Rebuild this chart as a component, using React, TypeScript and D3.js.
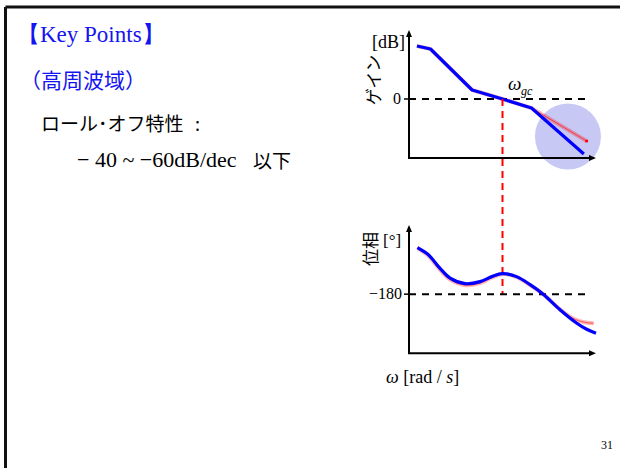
import React from "react";
import * as d3 from "d3";

// Gain curves: breakpoints on a log10(ω) axis, gain in dB
const gainLogW = [0.17, 0.46, 1.35, 2.0, 2.62, 3.74];
const gainShaped = [106, 100, 18, 0, -18, -110];
const gainBaseLogW = [0.17, 0.46, 1.35, 2.0, 2.62, 3.8];
const gainBase = [106, 100, 18, 0, -18, -84];

// Phase curves: log10(ω) vs degrees
const phaseLogW = [0.18, 0.41, 0.66, 0.88, 1.2, 1.52, 1.77, 2.0, 2.3, 2.59, 2.87, 3.23, 3.59, 3.8, 4.0];
const phaseShaped = [-87, -101, -128, -148, -159, -155, -145, -139, -145, -161, -180, -211, -238, -250, -258];
const phaseBaseLogW = [0.18, 0.41, 0.66, 0.88, 1.2, 1.52, 1.77, 2.0, 2.3, 2.59, 2.87, 3.23, 3.5, 3.75, 3.95];
const phaseBase = [-88, -103, -131, -151, -162, -158, -147, -140, -146, -162, -180, -210, -228, -236, -238];

// Reference levels and crossover frequency
const gainRef = 0;
const phaseRef = -180;
const crossoverLogW = 2.0;
const refLineEndLogW = 3.87;
const highlightLogW = 3.4;
const highlightDb = -75;

const SERIF = "'Liberation Serif', 'Times New Roman', serif";
const SANS = "'Noto Sans CJK JP', 'Noto Sans', sans-serif";
const BLUE = "#0000ff";
const TEXT_BLUE = "#1414f0";

const x = d3.scaleLinear().domain([0, 4]).range([409, 596]);
const yGain = d3.scaleLinear().domain([-118, 138]).range([158, 30]);
const yPhase = d3.scaleLinear().domain([-298, -42]).range([353.3, 225]);

const zip = (xs: number[], ys: number[]) => xs.map((v, i) => [v, ys[i]] as [number, number]);

const gainLine = d3
  .line<[number, number]>()
  .x((d) => x(d[0]))
  .y((d) => yGain(d[1]));

const phaseLine = d3
  .line<[number, number]>()
  .x((d) => x(d[0]))
  .y((d) => yPhase(d[1]))
  .curve(d3.curveCatmullRom.alpha(0.5));

function Axes({ y }: { y: d3.ScaleLinear<number, number> }) {
  const x0 = x.range()[0];
  const x1 = x.range()[1];
  const yb = y.range()[0];
  const yt = y.range()[1];
  return (
    <g stroke="#000" fill="#000">
      <line x1={x0} y1={yb} x2={x0} y2={yt + 5} strokeWidth={2} />
      <path d={`M${x0},${yt} L${x0 - 3},${yt + 7} L${x0 + 3},${yt + 7} Z`} stroke="none" />
      <line x1={x0 - 1} y1={yb} x2={x1 - 5} y2={yb} strokeWidth={2} />
      <path d={`M${x1},${yb} L${x1 - 7},${yb - 3} L${x1 - 7},${yb + 3} Z`} stroke="none" />
    </g>
  );
}

export default function App() {
  const gShaped = zip(gainLogW, gainShaped);
  const gBase = zip(gainBaseLogW, gainBase);
  const pShaped = zip(phaseLogW, phaseShaped);
  const pBase = zip(phaseBaseLogW, phaseBase);
  const gEnd = gBase[gBase.length - 1];

  return (
    <svg
      width={620}
      height={468}
      style={{ position: "absolute", left: 0, top: 0, background: "#fff" }}
    >
      {/* slide frame */}
      <line x1={5.5} y1={7} x2={620} y2={7} stroke="#111" strokeWidth={3} />
      <line x1={5.5} y1={7} x2={5.5} y2={468} stroke="#111" strokeWidth={3} />

      {/* left text block */}
      <text x={17} y={42} fontFamily={SERIF} fontSize={23} fill={TEXT_BLUE}>
        【Key Points】
      </text>
      <text x={20} y={88} fontFamily={SANS} fontSize={21} fill={TEXT_BLUE}>
        （高周波域）
      </text>
      <text x={41} y={131} fontFamily={SANS} fontSize={19} fill="#000">
        ロール･オフ特性
      </text>
      <text x={195} y={131} fontFamily={SANS} fontSize={18} fill="#000">
        :
      </text>
      <text x={77} y={167} fontFamily={SERIF} fontSize={22} fill="#000">
        − 40 ~ −60dB/dec
      </text>
      <text x={253} y={168} fontFamily={SANS} fontSize={19} fill="#000">
        以下
      </text>

      {/* gain plot */}
      <circle
        cx={x(highlightLogW)}
        cy={yGain(highlightDb)}
        r={33}
        fill="#c8c8f5"
      />
      <Axes y={yGain} />
      <line
        x1={x.range()[0]}
        x2={x(refLineEndLogW)}
        y1={yGain(gainRef)}
        y2={yGain(gainRef)}
        stroke="#000"
        strokeWidth={2}
        strokeDasharray="7,6"
      />
      <line x1={404} x2={409} y1={yGain(gainRef)} y2={yGain(gainRef)} stroke="#000" strokeWidth={1.5} />
      <text x={401} y={yGain(gainRef) + 5} textAnchor="end" fontFamily={SERIF} fontSize={16}>
        0
      </text>
      <text x={372} y={48} fontFamily={SERIF} fontSize={18}>
        [dB]
      </text>
      <text
        transform={`translate(380,80) rotate(-90)`}
        textAnchor="middle"
        fontFamily={SANS}
        fontSize={17}
      >
        ゲイン
      </text>
      <text x={508} y={90} fontFamily={SERIF} fontSize={19} fontStyle="italic">
        ω
      </text>
      <text x={521} y={95} fontFamily={SERIF} fontSize={12} fontStyle="italic">
        gc
      </text>

      <path d={gainLine(gBase) ?? ""} fill="none" stroke="#ff0000" strokeOpacity={0.28} strokeWidth={4} />
      <path d={gainLine(gBase) ?? ""} fill="none" stroke="#ff2020" strokeOpacity={0.75} strokeWidth={1} />
      <circle cx={x(gEnd[0])} cy={yGain(gEnd[1])} r={1.6} fill="#ff0000" />
      <path d={gainLine(gShaped) ?? ""} fill="none" stroke={BLUE} strokeWidth={3.2} strokeLinejoin="round" />

      {/* crossover marker */}
      <line
        x1={x(crossoverLogW)}
        x2={x(crossoverLogW)}
        y1={yGain(gainRef)}
        y2={yPhase(phaseRef)}
        stroke="#ff0000"
        strokeWidth={2}
        strokeDasharray="7,5"
      />

      {/* phase plot */}
      <Axes y={yPhase} />
      <line
        x1={x.range()[0]}
        x2={x(refLineEndLogW)}
        y1={yPhase(phaseRef)}
        y2={yPhase(phaseRef)}
        stroke="#000"
        strokeWidth={2}
        strokeDasharray="7,6"
      />
      <line x1={404} x2={409} y1={yPhase(phaseRef)} y2={yPhase(phaseRef)} stroke="#000" strokeWidth={1.5} />
      <text x={402} y={yPhase(phaseRef) + 5} textAnchor="end" fontFamily={SERIF} fontSize={16}>
        −180
      </text>
      <text
        transform={`translate(377,249) rotate(-90)`}
        textAnchor="middle"
        fontFamily={SANS}
        fontSize={17}
      >
        位相
      </text>
      <text x={383} y={246} fontFamily={SERIF} fontSize={17}>
        [°]
      </text>

      <path d={phaseLine(pBase) ?? ""} fill="none" stroke="#ff0000" strokeOpacity={0.28} strokeWidth={4} />
      <path d={phaseLine(pBase) ?? ""} fill="none" stroke="#ff2020" strokeOpacity={0.7} strokeWidth={1} />
      <path d={phaseLine(pShaped) ?? ""} fill="none" stroke={BLUE} strokeWidth={3.2} />

      {/* frequency axis label */}
      <text x={386} y={383} fontFamily={SERIF} fontSize={18}>
        <tspan fontStyle="italic">ω</tspan>
        <tspan> [rad / </tspan>
        <tspan fontStyle="italic">s</tspan>
        <tspan>]</tspan>
      </text>

      <text x={601} y={449} fontFamily={SERIF} fontSize={12}>
        31
      </text>
    </svg>
  );
}
